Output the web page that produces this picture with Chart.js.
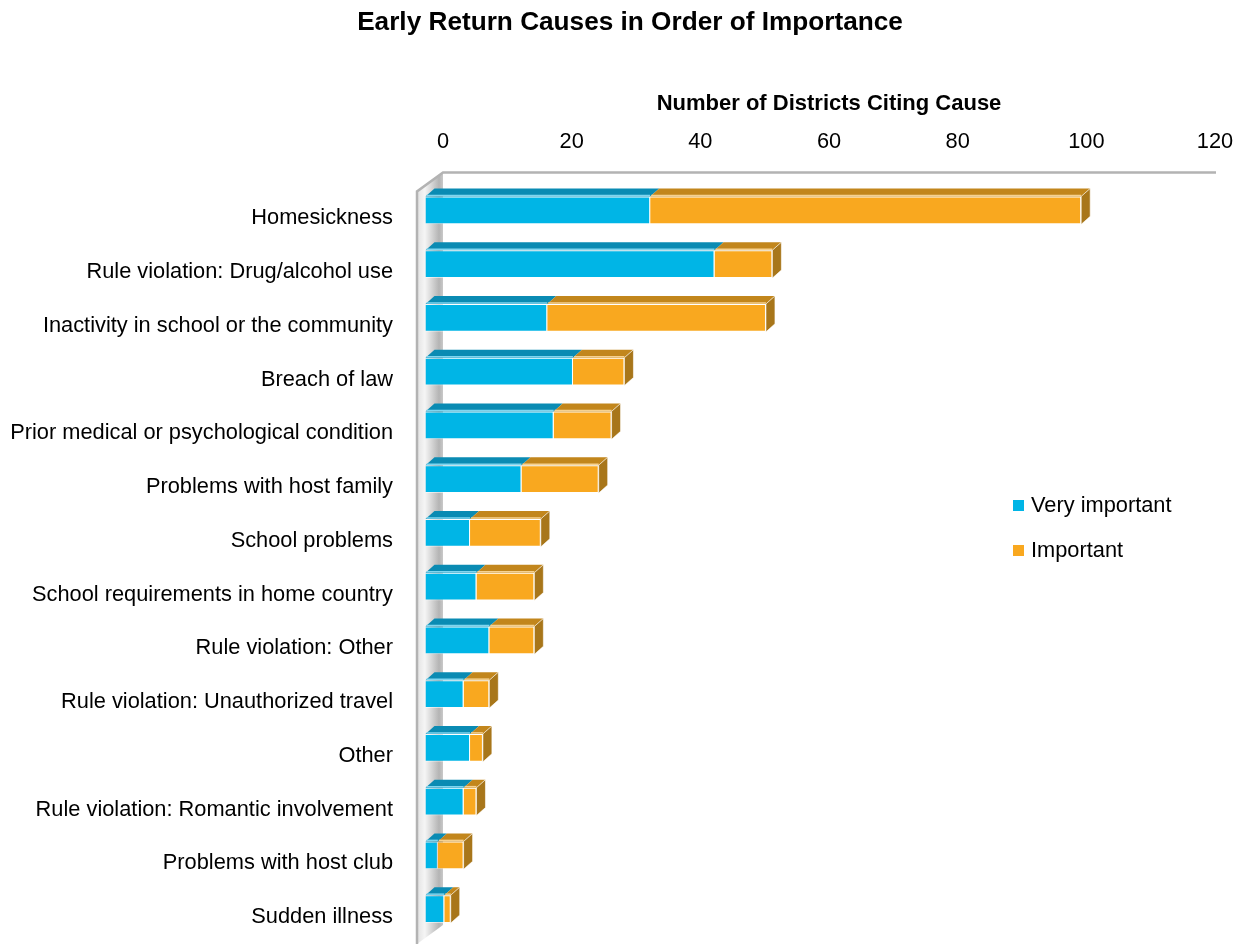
<!DOCTYPE html>
<html>
<head>
<meta charset="utf-8">
<title>Early Return Causes</title>
<script src="https://cdn.jsdelivr.net/npm/chart.js@4"></script>
<style>
  body { margin: 0; background: #fff; }
  canvas { display: block; }
</style>
</head>
<body>
<canvas id="causes" width="1243" height="944"></canvas>
<script>
// causes, most cited first
var causes = [
    "Homesickness",
    "Rule violation: Drug/alcohol use",
    "Inactivity in school or the community",
    "Breach of law",
    "Prior medical or psychological condition",
    "Problems with host family",
    "School problems",
    "School requirements in home country",
    "Rule violation: Other",
    "Rule violation: Unauthorized travel",
    "Other",
    "Rule violation: Romantic involvement",
    "Problems with host club",
    "Sudden illness"
];
var veryImportant = [35, 45, 19, 23, 20, 15, 7, 8, 10, 6, 7, 6, 2, 3];
var important     = [67, 9, 34, 8, 9, 12, 11, 9, 7, 4, 2, 2, 4, 1];
var seriesNames = ["Very important", "Important"];
var axisTicks = [0, 20, 40, 60, 80, 100, 120];

var FONT = "'Liberation Sans', Arial, sans-serif";
var TXT = 21.8;

// colours for front / top / side of each series
var faces = [
    { front: "#00B5E6", top: "#0A8BB3", edge: "#7FD6F0", side: "#0A7FA3" },
    { front: "#F9A81F", top: "#C2861C", edge: "#F7D290", side: "#A8761A" }
];

var WALL_DX = 26, WALL_DY = 19;   // wall depth
var BAR_DX = -18, BAR_DY = -8;    // bar front face offset from front plane
var DEPTH_X = 9, DEPTH_Y = -8;    // bar depth

var wallPlugin = {
    id: "wall3d",
    afterLayout: function(chart) {
        // centre the main title a little right of the canvas middle
        if (chart.titleBlock) {
            chart.titleBlock.left = 17;
            chart.titleBlock.right = chart.width;
        }
    },
    beforeDatasetsDraw: function(chart) {
        var ctx = chart.ctx, a = chart.chartArea;
        var bx = a.left, fx = a.left - WALL_DX;
        ctx.save();
        // left side wall
        var g = ctx.createLinearGradient(fx, 0, bx, 0);
        g.addColorStop(0, "#e2e2e2");
        g.addColorStop(0.3, "#f5f5f5");
        g.addColorStop(0.85, "#b4b4b4");
        g.addColorStop(1, "#c9c9c9");
        ctx.fillStyle = g;
        ctx.beginPath();
        ctx.moveTo(bx, a.top - WALL_DY);
        ctx.lineTo(bx, a.bottom - WALL_DY);
        ctx.lineTo(fx, a.bottom);
        ctx.lineTo(fx, a.top);
        ctx.closePath();
        ctx.fill();
        ctx.strokeStyle = "#b3b3b3";
        ctx.lineWidth = 2.5;
        ctx.beginPath();
        ctx.moveTo(fx, a.bottom + 2);
        ctx.lineTo(fx, a.top);
        ctx.lineTo(bx, a.top - WALL_DY);
        ctx.lineTo(a.right + 1, a.top - WALL_DY);
        ctx.stroke();
        ctx.restore();

        ctx.save();
        ctx.translate(BAR_DX, BAR_DY);
    },
    afterDatasetsDraw: function(chart) {
        var ctx = chart.ctx;
        var n = chart.data.datasets.length;
        chart.data.datasets.forEach(function(ds, di) {
            var meta = chart.getDatasetMeta(di);
            var f = faces[di];
            meta.data.forEach(function(bar) {
                var p = bar.getProps(["x", "y", "base", "height"], true);
                var x0 = Math.min(p.x, p.base), x1 = Math.max(p.x, p.base);
                var yt = p.y - p.height / 2, yb = p.y + p.height / 2;
                if (x1 - x0 < 0.5) return;
                // top face
                ctx.fillStyle = f.top;
                ctx.beginPath();
                ctx.moveTo(x0, yt);
                ctx.lineTo(x0 + DEPTH_X, yt + DEPTH_Y);
                ctx.lineTo(x1 + DEPTH_X, yt + DEPTH_Y);
                ctx.lineTo(x1, yt);
                ctx.closePath();
                ctx.fill();
                ctx.strokeStyle = f.edge;
                ctx.lineWidth = 1.5;
                ctx.beginPath();
                ctx.moveTo(x0 + 1, yt - 1);
                ctx.lineTo(x1, yt - 1);
                ctx.stroke();
                // side face on the end of the stack
                if (di === n - 1) {
                    ctx.fillStyle = f.side;
                    ctx.beginPath();
                    ctx.moveTo(x1, yt);
                    ctx.lineTo(x1 + DEPTH_X, yt + DEPTH_Y);
                    ctx.lineTo(x1 + DEPTH_X, yb + DEPTH_Y);
                    ctx.lineTo(x1, yb);
                    ctx.closePath();
                    ctx.fill();
                    ctx.strokeStyle = "rgba(255,255,255,0.6)";
                    ctx.lineWidth = 1;
                    ctx.stroke();
                }
            });
        });
        ctx.restore();
    }
};

var legendPlugin = {
    id: "sideLegend",
    afterDraw: function(chart) {
        var ctx = chart.ctx;
        ctx.save();
        ctx.font = TXT + "px " + FONT;
        ctx.textBaseline = "middle";
        chart.data.datasets.forEach(function(ds, i) {
            var y = 505 + i * 45;
            ctx.fillStyle = ds.backgroundColor;
            ctx.fillRect(1013, y - 5, 11, 11);
            ctx.fillStyle = "#000";
            ctx.fillText(ds.label, 1031, y + 1);
        });
        ctx.restore();
    }
};

var config = {
    type: "bar",
    data: {
        labels: causes,
        datasets: [{
            label: seriesNames[0],
            data: veryImportant,
            backgroundColor: faces[0].front,
            borderColor: "rgba(255,255,255,0.55)",
            borderWidth: 1,
            clip: false
        }, {
            label: seriesNames[1],
            data: important,
            backgroundColor: faces[1].front,
            borderColor: "rgba(255,255,255,0.55)",
            borderWidth: 1,
            clip: false
        }]
    },
    options: {
        indexAxis: "y",
        responsive: false,
        animation: false,
        layout: { padding: { left: 8, right: 28, top: 0, bottom: 0 } },
        datasets: { bar: { categoryPercentage: 1, barPercentage: 0.52 } },
        plugins: {
            legend: { display: false },
            tooltip: { enabled: false },
            title: {
                display: true,
                text: "Early Return Causes in Order of Importance",
                color: "#000",
                font: { family: FONT, size: 26.2, weight: "bold" },
                padding: { top: 7, bottom: 52 }
            }
        },
        scales: {
            x: {
                position: "top",
                stacked: true,
                min: axisTicks[0],
                max: axisTicks[axisTicks.length - 1],
                afterBuildTicks: function(s) {
                    s.ticks = axisTicks.map(function(v) { return { value: v }; });
                },
                grid: { display: true, color: "rgba(0,0,0,0)", drawOnChartArea: false, drawTicks: true, tickLength: 36.5 },
                border: { display: false },
                ticks: { color: "#000", font: { family: FONT, size: TXT }, padding: 0 },
                title: {
                    display: true,
                    text: "Number of Districts Citing Cause",
                    color: "#000",
                    font: { family: FONT, size: 22, weight: "bold" },
                    padding: { top: 0, bottom: 12 }
                }
            },
            y: {
                stacked: true,
                grid: { display: false, drawTicks: false },
                border: { display: false },
                ticks: { color: "#000", font: { family: FONT, size: TXT }, padding: 50 },
                afterFit: function(s) {
                    s.width = 435;
                    // let the category band run to the bottom edge
                    s.paddingTop = 0;
                    s.paddingBottom = 0;
                }
            }
        }
    },
    plugins: [wallPlugin, legendPlugin]
};

var ctx = document.getElementById("causes");
window.myChart = new Chart(ctx, config);
</script>
</body>
</html>
